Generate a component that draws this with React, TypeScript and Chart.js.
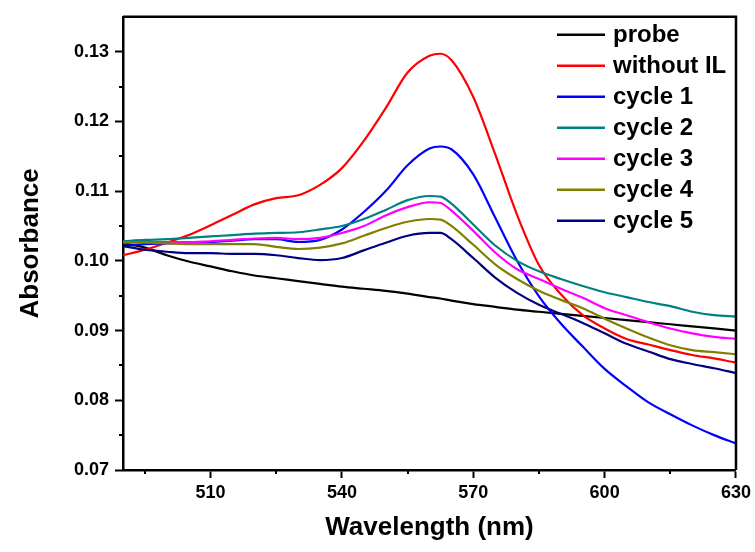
import React, { useEffect, useRef } from "react";
import { Chart, registerables } from "chart.js";

Chart.register(...registerables);

const WAVELENGTHS = [490, 495, 500, 505, 510, 515, 520, 525, 530, 535, 540, 545, 550, 555, 560, 562.5, 565, 570, 575, 580, 585, 590, 595, 600, 605, 610, 615, 620, 625, 630];

const PROBE = [0.1025, 0.1019, 0.1008, 0.0999, 0.0992, 0.0985, 0.0979, 0.0975, 0.0971, 0.0967, 0.0963, 0.096, 0.0957, 0.0953, 0.0948, 0.0946, 0.0943, 0.0938, 0.0934, 0.093, 0.0927, 0.0924, 0.0921, 0.0918, 0.0915, 0.0912, 0.0909, 0.0906, 0.0903, 0.09];
const WITHOUT_IL = [0.1008, 0.1016, 0.1026, 0.1037, 0.1051, 0.1066, 0.1081, 0.109, 0.1094, 0.1109, 0.1133, 0.1172, 0.1219, 0.127, 0.1294, 0.1297, 0.1288, 0.1235, 0.1153, 0.1066, 0.0994, 0.0952, 0.0922, 0.0903, 0.0888, 0.088, 0.0872, 0.0865, 0.086, 0.0854];
const CYCLE_1 = [0.1021, 0.1024, 0.1025, 0.1026, 0.1027, 0.1029, 0.1031, 0.1031, 0.1027, 0.103, 0.1045, 0.107, 0.11, 0.1137, 0.1161, 0.1164, 0.116, 0.1124, 0.1062, 0.1, 0.0949, 0.091, 0.0877, 0.0845, 0.082, 0.0797, 0.078, 0.0764, 0.075, 0.0738];
const CYCLE_2 = [0.1028, 0.103, 0.1031, 0.1033, 0.1035, 0.1037, 0.1039, 0.104, 0.1041, 0.1045, 0.105, 0.106, 0.1073, 0.1087, 0.1093, 0.1092, 0.1082, 0.1052, 0.1022, 0.1, 0.0985, 0.0974, 0.0964, 0.0955, 0.0948, 0.0941, 0.0935, 0.0927, 0.0922, 0.092];
const CYCLE_3 = [0.1027, 0.1027, 0.1027, 0.1027, 0.1028, 0.103, 0.1032, 0.1033, 0.1031, 0.1033, 0.104, 0.105, 0.1065, 0.1077, 0.1084, 0.1083, 0.1072, 0.1043, 0.1012, 0.0988, 0.0974, 0.096, 0.0947, 0.0932, 0.0922, 0.0912, 0.0903, 0.0896, 0.0891, 0.0888];
const CYCLE_4 = [0.1026, 0.1026, 0.1025, 0.1024, 0.1024, 0.1024, 0.1024, 0.102, 0.1017, 0.1019, 0.1025, 0.1036, 0.1047, 0.1056, 0.106, 0.1059, 0.105, 0.1023, 0.0995, 0.0974, 0.0957, 0.0944, 0.0932, 0.0917, 0.0903, 0.089, 0.0879, 0.0872, 0.0869, 0.0866];
const CYCLE_5 = [0.1021, 0.1016, 0.1013, 0.1011, 0.1011, 0.101, 0.101, 0.1008, 0.1004, 0.1001, 0.1004, 0.1015, 0.1026, 0.1036, 0.104, 0.104, 0.1031, 0.1004, 0.0976, 0.0954, 0.0937, 0.0924, 0.0911, 0.0896, 0.0881, 0.087, 0.0859, 0.0852, 0.0846, 0.0839];

const SERIES_NAMES = ["probe", "without IL", "cycle 1", "cycle 2", "cycle 3", "cycle 4", "cycle 5"];
const SERIES_VALUES = [PROBE, WITHOUT_IL, CYCLE_1, CYCLE_2, CYCLE_3, CYCLE_4, CYCLE_5];
const SERIES_COLORS = ["#000000", "#ff0000", "#0000ff", "#008080", "#ff00ff", "#808000", "#000080"];

const X_TICKS = [510, 540, 570, 600, 630];
const X_MINOR = [495, 525, 555, 585, 615];
const Y_TICKS = [0.07, 0.08, 0.09, 0.1, 0.11, 0.12, 0.13];
const Y_MINOR = [0.075, 0.085, 0.095, 0.105, 0.115, 0.125];

const FONT = "'Liberation Sans', Arial, sans-serif";

const framePlugin = {
  id: "frameAndMinor",
  afterDraw(chart: any) {
    const { ctx, chartArea } = chart;
    const xs = chart.scales.x;
    const ys = chart.scales.y;
    ctx.save();
    ctx.strokeStyle = "#000";
    ctx.lineWidth = 2.5;
    ctx.beginPath();
    ctx.moveTo(chartArea.left, chartArea.top);
    ctx.lineTo(chartArea.right, chartArea.top);
    ctx.lineTo(chartArea.right, chartArea.bottom);
    ctx.stroke();
    ctx.lineWidth = 2;
    ctx.beginPath();
    for (const v of X_MINOR) {
      const px = Math.round(xs.getPixelForValue(v));
      ctx.moveTo(px, chartArea.bottom);
      ctx.lineTo(px, chartArea.bottom + 4);
    }
    for (const v of Y_MINOR) {
      const py = Math.round(ys.getPixelForValue(v));
      ctx.moveTo(chartArea.left, py);
      ctx.lineTo(chartArea.left - 4, py);
    }
    ctx.stroke();

    // legend inside plot
    const lx = chartArea.right - 179;
    const ly0 = chartArea.top + 18;
    const step = 31;
    ctx.font = "bold 24px " + FONT;
    ctx.textBaseline = "middle";
    ctx.textAlign = "left";
    chart.data.datasets.forEach((ds: any, i: number) => {
      const y = ly0 + i * step;
      ctx.strokeStyle = ds.borderColor;
      ctx.lineWidth = 2.5;
      ctx.beginPath();
      ctx.moveTo(lx, y);
      ctx.lineTo(lx + 48, y);
      ctx.stroke();
      ctx.fillStyle = "#000";
      ctx.fillText(ds.label, lx + 56, y + 1);
    });
    ctx.restore();
  },
};

export default function App() {
  const ref = useRef<HTMLCanvasElement>(null);
  useEffect(() => {
    document.body.style.margin = "0";
    Chart.defaults.font.family = FONT;
    const datasets = SERIES_NAMES.map((name, i) => ({
      label: name,
      data: WAVELENGTHS.map((x, j) => ({ x, y: SERIES_VALUES[i][j] })),
      borderColor: SERIES_COLORS[i],
      backgroundColor: SERIES_COLORS[i],
      borderWidth: 2.2,
      pointRadius: 0,
      fill: false,
      cubicInterpolationMode: "monotone" as const,
      order: SERIES_NAMES.length - i,
    }));
    const chart = new Chart(ref.current!, {
      type: "line",
      data: { datasets },
      plugins: [framePlugin],
      options: {
        animation: false,
        responsive: false,
        layout: { padding: { top: 15, right: 17, left: 0, bottom: 0 } },
        plugins: { legend: { display: false }, tooltip: { enabled: false } },
        scales: {
          x: {
            type: "linear",
            min: 490,
            max: 630,
            afterBuildTicks: (s: any) => {
              s.ticks = X_TICKS.map((v) => ({ value: v }));
            },
            afterFit: (s: any) => {
              s.height = 82;
            },
            grid: { drawOnChartArea: false, drawTicks: true, tickLength: 8, tickWidth: 2, tickColor: "#000" },
            border: { display: true, color: "#000", width: 2.5 },
            ticks: {
              color: "#000",
              font: { size: 18, weight: "bold" },
              padding: 4,
              maxRotation: 0,
              autoSkip: false,
              callback: (v: any) => String(v),
            },
            title: {
              display: true,
              text: "Wavelength (nm)",
              color: "#000",
              font: { size: 26, weight: "bold" },
              padding: { bottom: 9, top: 0 },
            },
          },
          y: {
            type: "linear",
            min: 0.07,
            max: 0.135,
            afterBuildTicks: (s: any) => {
              s.ticks = Y_TICKS.map((v) => ({ value: v }));
            },
            afterFit: (s: any) => {
              s.width = 123;
            },
            grid: { drawOnChartArea: false, drawTicks: true, tickLength: 8, tickWidth: 2, tickColor: "#000" },
            border: { display: true, color: "#000", width: 2.5 },
            ticks: {
              color: "#000",
              font: { size: 18, weight: "bold" },
              padding: 6,
              autoSkip: false,
              callback: (v: any) => Number(v).toFixed(2),
            },
            title: {
              display: true,
              text: "Absorbance",
              color: "#000",
              font: { size: 26, weight: "bold" },
              padding: { top: 15, bottom: 0 },
            },
          },
        },
      },
    });
    return () => chart.destroy();
  }, []);
  return (
    <div style={{ position: "absolute", left: 0, top: 0, width: 755, height: 552 }}>
      <canvas ref={ref} width={755} height={552} style={{ width: 755, height: 552 }} />
    </div>
  );
}
